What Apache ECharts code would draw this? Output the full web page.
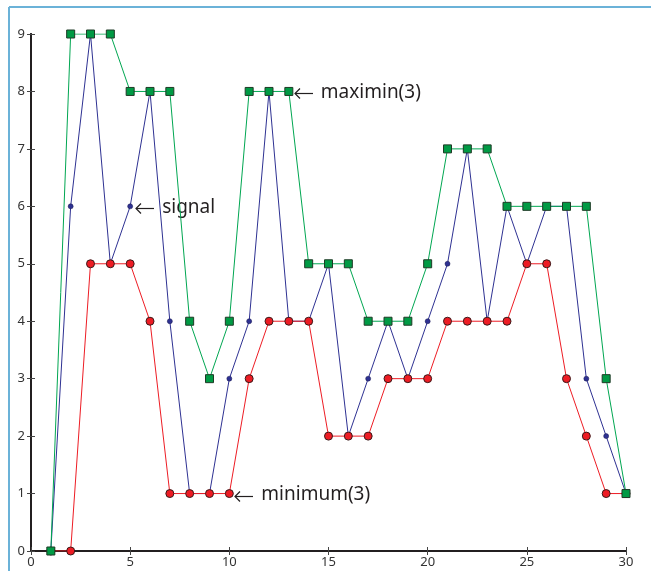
<!DOCTYPE html>
<html>
<head>
<meta charset="utf-8">
<script src="https://cdn.jsdelivr.net/npm/echarts@6/dist/echarts.min.js"></script>
<style>html,body{margin:0;padding:0;background:#fff}#c{width:651px;height:571px}</style>
</head>
<body>
<div id="c"></div>
<script>
const xs = [1,2,3,4,5,6,7,8,9,10,11,12,13,14,15,16,17,18,19,20,21,22,23,24,25,26,27,28,29,30];
const signal  = [0,6,9,5,6,8,4,1,1,3,4,8,4,4,5,2,3,4,3,4,5,7,4,6,5,6,6,3,2,1];
const minimum = [0,0,5,5,5,4,1,1,1,1,3,4,4,4,2,2,2,3,3,3,4,4,4,4,5,5,3,2,1,1];
const maximin = [0,9,9,9,8,8,8,4,3,4,8,8,8,5,5,5,4,4,4,5,7,7,7,6,6,6,6,6,3,1];
const xTicks = [0,5,10,15,20,25,30];
const yTicks = [0,1,2,3,4,5,6,7,8,9];
const annotations = [
  {text: 'maximin(3)', x: 13, y: 8},
  {text: 'signal', x: 5, y: 6},
  {text: 'minimum(3)', x: 10, y: 1}
];

const pair = arr => xs.map((x,i)=>[x,arr[i]]);
const chart = echarts.init(document.getElementById('c'));
const FONT = '"Noto Sans", "DejaVu Sans", sans-serif';
const axisLine = {show:true, lineStyle:{color:'#231f20', width:2}};
const tick = {show:true, inside:true, length:4, lineStyle:{color:'#444', width:1}};
chart.setOption({
  animation:false,
  backgroundColor:'#fff',
  grid:{left:31, right:25, top:34, bottom:20, containLabel:false},
  xAxis:[
    {type:'value', min:xTicks[0], max:xTicks[xTicks.length-1], interval:5, axisLine, axisTick:tick, splitLine:{show:false},
     axisLabel:{color:'#333', fontSize:13, fontFamily:FONT, margin:5}},
    {type:'value', position:'top', min:xTicks[0], max:xTicks[xTicks.length-1], interval:5, axisLine, axisTick:tick, splitLine:{show:false}, axisLabel:{show:false}}
  ],
  yAxis:[
    {type:'value', min:yTicks[0], max:yTicks[yTicks.length-1], interval:1, axisLine, axisTick:tick, splitLine:{show:false},
     axisLabel:{color:'#333', fontSize:13, fontFamily:FONT, margin:6}},
    {type:'value', position:'right', min:yTicks[0], max:yTicks[yTicks.length-1], interval:1, axisLine, axisTick:tick, splitLine:{show:false}, axisLabel:{show:false}}
  ],
  series:[
    {name:'signal', type:'line', data:pair(signal), z:3, symbol:'circle', symbolSize:5,
     lineStyle:{color:'#2e3192', width:1}, itemStyle:{color:'#2e3192', borderColor:'#1a1a50', borderWidth:0.5}},
    {name:'minimum(3)', type:'line', data:pair(minimum), z:4, symbol:'circle', symbolSize:8,
     lineStyle:{color:'#ed1c24', width:1}, itemStyle:{color:'#ed1c24', borderColor:'#3a1a1a', borderWidth:1}},
    {name:'maximin(3)', type:'line', data:pair(maximin), z:5, symbol:'rect', symbolSize:8,
     lineStyle:{color:'#00a651', width:1}, itemStyle:{color:'#009a44', borderColor:'#1f3a26', borderWidth:1}}
  ]
});

const g = [
  {type:'line', shape:{x1:9, y1:7, x2:9, y2:571}, style:{stroke:'#6bb2d8', lineWidth:2}},
  {type:'line', shape:{x1:9, y1:7, x2:651, y2:7}, style:{stroke:'#6bb2d8', lineWidth:2}}
];
annotations.forEach(a=>{
  const p = chart.convertToPixel({xAxisIndex:0, yAxisIndex:0}, [a.x, a.y]);
  const x0 = Math.round(p[0]) + 6, y0 = Math.round(p[1]) + 2.5;
  g.push({type:'line', shape:{x1:x0, y1:y0, x2:x0+18, y2:y0}, style:{stroke:'#231f20', lineWidth:1.2}});
  g.push({type:'polyline', shape:{points:[[x0+5,y0-5],[x0,y0],[x0+5,y0+5]]}, style:{stroke:'#231f20', lineWidth:1.2, fill:null}});
  g.push({type:'text', x:p[0]+32, y:p[1]+1, style:{text:a.text, font:'19px ' + FONT, fill:'#231f20', textVerticalAlign:'middle', verticalAlign:'middle'}});
});
chart.setOption({graphic:g});
</script>
</body>
</html>
